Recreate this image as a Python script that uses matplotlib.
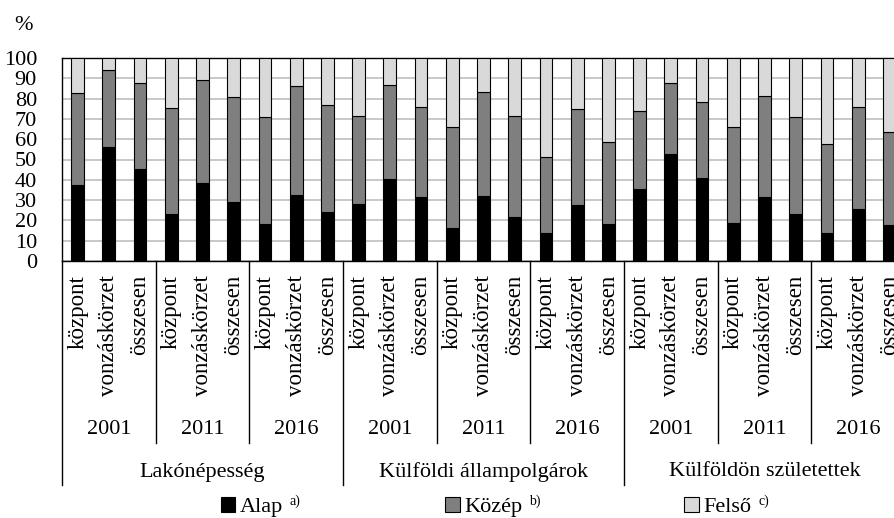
import matplotlib
matplotlib.use("Agg")
import matplotlib.pyplot as plt
from matplotlib.patches import Patch
import numpy as np

plt.rcParams['font.family'] = ['Liberation Serif', 'DejaVu Serif']

# data (%)
groups = ['Lakónépesség', 'Külföldi állampolgárok', 'Külföldön születettek']
years = ['2001', '2011', '2016']
areas = ['központ', 'vonzáskörzet', 'összesen']
legend_names = ['Alap', 'Közép', 'Felső']
legend_notes = ['a)', 'b)', 'c)']

alap = [37.3, 56.4, 45.1, 23.0, 38.3, 29.1, 18.3, 32.7, 24.0,
        28.3, 40.3, 31.7, 16.4, 32.2, 21.7, 13.8, 27.8, 18.3,
        35.5, 52.6, 40.8, 18.6, 31.7, 23.0, 13.8, 25.8, 17.8]
kozep = [45.4, 37.5, 42.4, 52.5, 50.8, 51.7, 52.6, 53.5, 53.0,
         43.1, 46.4, 44.0, 49.6, 51.2, 49.8, 37.4, 46.9, 40.3,
         38.5, 34.9, 37.3, 47.4, 49.5, 48.1, 43.8, 49.9, 45.7]
felso = [17.3, 6.1, 12.5, 24.5, 10.9, 19.2, 29.1, 13.8, 23.0,
         28.6, 13.3, 24.3, 34.0, 16.6, 28.5, 48.8, 25.3, 41.4,
         26.0, 12.5, 21.9, 34.0, 18.8, 28.9, 42.4, 24.3, 36.5]

fs = 16
W, H = 895, 518
fig = plt.figure(figsize=(W / 100, H / 100), dpi=100)
# axes runs past the right edge, as in the source image
ax = fig.add_axes([62 / W, 1 - 261 / H, 843 / W, 203 / H])

x = np.arange(len(alap))
a = np.array(alap)
k = np.array(kozep)
f = np.array(felso)
cols = ['black', '#7f7f7f', '#d9d9d9']
bw = 0.41
ax.bar(x, a, bw, color=cols[0], edgecolor='black', linewidth=0.8, zorder=3)
ax.bar(x, k, bw, bottom=a, color=cols[1], edgecolor='black', linewidth=0.8, zorder=3)
ax.bar(x, f, bw, bottom=a + k, color=cols[2], edgecolor='black', linewidth=0.8, zorder=3)

ax.set_xlim(-0.5, len(alap) - 0.5)
ax.set_ylim(0, 100)
ax.set_yticks(range(0, 101, 10))
ax.tick_params(axis='y', length=0, labelsize=fs, pad=18)
ax.set_xticks([])
ax.yaxis.grid(True, color='#bfbfbf', linewidth=1.2, zorder=0)
ax.set_axisbelow(True)
for s in ['left', 'top', 'bottom']:
    ax.spines[s].set_color('black')
    ax.spines[s].set_linewidth(1.0)
ax.spines['right'].set_visible(False)

tr = ax.get_xaxis_transform()
ah = 203.0
# category labels
for i in range(len(alap)):
    ax.text(i, -14 / ah, areas[i % 3], rotation=90, ha='center', va='top',
            fontsize=fs + 0.5, transform=tr)
# year labels and separators
for j in range(9):
    ax.text(3 * j + 1, -169 / ah, years[j % 3], ha='center', va='center',
            fontsize=fs, transform=tr)
for j in range(10):
    xs = 3 * j - 0.5
    low = -224 / ah if j % 3 == 0 else -182 / ah
    ax.plot([xs, xs], [0, low], color='black', linewidth=1.0, transform=tr,
            clip_on=False)
# group labels
for g in range(3):
    ax.text(9 * g + 4, -211 / ah, groups[g], ha='center', va='center',
            fontsize=fs, transform=tr)

fig.text(24 / W, 1 - 26 / H, '%', ha='center', va='center', fontsize=fs)

# legend: squares + names, small notes placed after the names
handles = [Patch(facecolor=c, edgecolor='black', linewidth=0.8) for c in cols]
leg = fig.legend(handles, legend_names, loc='center', bbox_to_anchor=(486 / W, 1 - 507 / H),
                 ncol=3, frameon=False, fontsize=fs, handlelength=0.65, handleheight=0.65,
                 handletextpad=0.2, columnspacing=7.3, borderpad=0, borderaxespad=0)
fig.canvas.draw()
r = fig.canvas.get_renderer()
for t, note in zip(leg.get_texts(), legend_notes):
    bb = t.get_window_extent(r)
    fig.text((bb.x1 + 7) / W, (bb.y0 + 0.82 * bb.height) / H, note,
             ha='left', va='center', fontsize=10)

fig.savefig('out.png', dpi=100)
